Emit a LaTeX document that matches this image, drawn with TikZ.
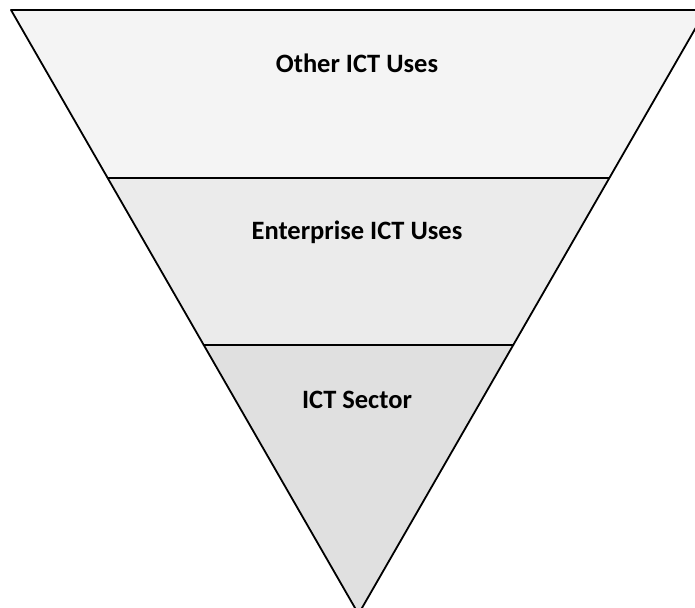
\documentclass[tikz,border=0pt]{standalone}
\usepackage{fontspec}
\setmainfont{Carlito}
\usetikzlibrary{calc}

\definecolor{bandtop}{HTML}{F4F4F4}
\definecolor{bandmid}{HTML}{EBEBEB}
\definecolor{bandlow}{HTML}{E0E0E0}

\begin{document}
\begin{tikzpicture}[x=1pt, y=1pt, line join=round,
    band/.style={draw=black, line width=1.8pt},
    bandlabel/.style={font=\fontsize{26.5}{31}\selectfont\bfseries}]
      \useasboundingbox (0, 0) rectangle (695, 607);
      \coordinate (tl) at (11, 597);
      \coordinate (tr) at (706, 597);
      \coordinate (apex) at (358.5, -7);
      \coordinate (ml) at ($(tl)!0.278!(apex)$);
      \coordinate (mr) at ($(tr)!0.278!(apex)$);
      \coordinate (ll) at ($(tl)!0.5546!(apex)$);
      \coordinate (lr) at ($(tr)!0.5546!(apex)$);
      \filldraw[band, fill=bandtop] (tl) -- (tr) -- (mr) -- (ml) -- cycle;
      \filldraw[band, fill=bandmid] (ml) -- (mr) -- (lr) -- (ll) -- cycle;
      \filldraw[band, fill=bandlow] (ll) -- (lr) -- (apex) -- cycle;
      \node[bandlabel] (other) at (357, 544) {Other ICT Uses};
      \node[bandlabel] (enterprise) at (357, 375) {Enterprise ICT Uses};
      \node[bandlabel] (sector) at (357, 207) {ICT Sector};
    \end{tikzpicture}
\end{document}
